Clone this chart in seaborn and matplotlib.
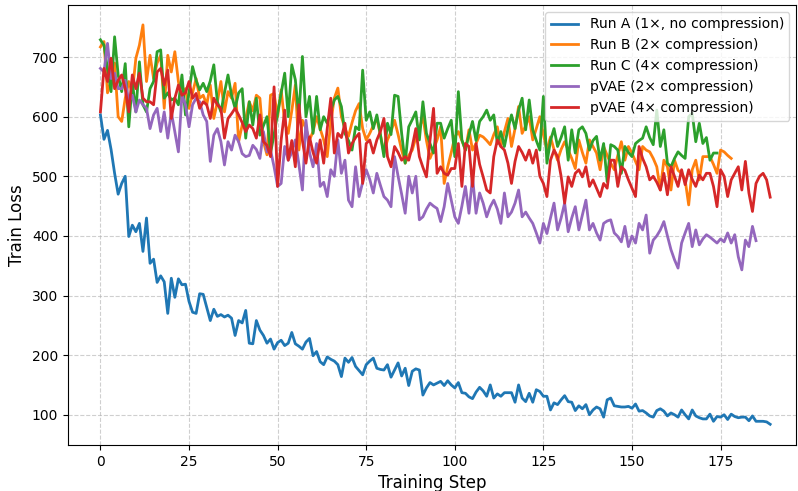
import matplotlib
matplotlib.use("Agg")
import matplotlib.pyplot as plt
import seaborn as sns
import pandas as pd

run_a = [603, 562, 577, 545, 505, 470, 488, 500, 399, 418, 407, 421, 374, 430, 354, 361, 322, 333, 323, 270,
         329, 297, 328, 318, 319, 290, 272, 270, 303, 302, 280, 258, 277, 265, 268, 264, 267, 262, 233, 258,
         254, 275, 220, 219, 258, 242, 233, 220, 227, 210, 221, 225, 216, 220, 238, 219, 215, 210, 222, 228,
         199, 206, 189, 184, 197, 193, 190, 184, 164, 195, 188, 196, 181, 174, 167, 184, 190, 195, 178, 176,
         175, 184, 163, 175, 187, 165, 178, 149, 173, 177, 175, 133, 145, 154, 150, 153, 156, 149, 157, 150,
         145, 154, 137, 136, 130, 127, 138, 146, 140, 131, 150, 128, 135, 131, 137, 137, 137, 121, 150, 128,
         122, 136, 121, 142, 139, 131, 131, 108, 120, 117, 125, 132, 122, 121, 107, 115, 110, 117, 100, 108,
         113, 110, 96, 125, 128, 115, 114, 113, 113, 114, 111, 118, 106, 107, 103, 98, 96, 107, 110, 106,
         98, 103, 100, 96, 108, 100, 93, 108, 98, 95, 93, 93, 101, 89, 97, 96, 100, 92, 101, 97,
         95, 96, 96, 90, 98, 89, 89, 89, 88, 84]

run_b = [717, 726, 640, 659, 690, 600, 592, 631, 659, 640, 698, 720, 754, 659, 703, 664, 690, 703, 614, 703,
         675, 709, 659, 625, 647, 614, 640, 664, 631, 636, 620, 653, 597, 625, 659, 608, 642, 631, 656, 558,
         586, 597, 625, 610, 636, 631, 558, 536, 636, 639, 600, 645, 590, 572, 610, 653, 544, 594, 580, 561,
         575, 600, 580, 561, 533, 590, 631, 648, 600, 580, 567, 590, 610, 622, 580, 561, 572, 585, 597, 570,
         539, 561, 575, 594, 570, 544, 522, 535, 544, 565, 580, 600, 560, 530, 545, 561, 583, 488, 516, 540,
         566, 575, 560, 544, 578, 544, 555, 569, 566, 560, 553, 570, 583, 550, 575, 597, 550, 580, 617, 572,
         585, 600, 561, 580, 600, 570, 544, 566, 545, 527, 545, 558, 544, 530, 513, 561, 540, 522, 561, 550,
         539, 511, 550, 535, 522, 511, 535, 558, 527, 550, 539, 525, 511, 550, 544, 541, 530, 516, 477, 527,
         516, 477, 527, 510, 505, 494, 452, 511, 527, 494, 533, 533, 533, 520, 505, 544, 541, 535, 530]

run_c = [729, 720, 680, 642, 734, 670, 642, 689, 583, 659, 608, 692, 620, 608, 647, 659, 709, 712, 631, 640,
         628, 631, 620, 670, 603, 640, 684, 661, 645, 656, 642, 660, 687, 625, 608, 640, 670, 636, 614, 640,
         647, 564, 625, 586, 631, 569, 585, 600, 539, 570, 606, 640, 673, 600, 687, 662, 600, 701, 600, 634,
         572, 634, 578, 600, 589, 610, 628, 634, 617, 572, 560, 544, 583, 578, 678, 594, 608, 580, 603, 570,
         533, 589, 570, 636, 634, 572, 522, 583, 595, 608, 561, 625, 572, 555, 539, 589, 589, 564, 580, 594,
         533, 642, 561, 544, 570, 592, 560, 592, 600, 611, 594, 603, 555, 575, 550, 580, 603, 580, 611, 631,
         578, 628, 578, 560, 544, 634, 522, 560, 580, 550, 565, 583, 527, 578, 539, 578, 583, 572, 544, 560,
         567, 527, 555, 491, 553, 550, 544, 505, 550, 540, 533, 555, 560, 564, 583, 565, 553, 611, 550, 578,
         522, 516, 530, 541, 535, 530, 600, 606, 558, 589, 555, 565, 527, 539, 539]

pvae_2x = [681, 675, 723, 664, 673, 647, 647, 661, 625, 636, 608, 628, 620, 614, 580, 603, 614, 575, 608, 564,
           608, 575, 541, 636, 620, 583, 620, 631, 625, 603, 592, 525, 569, 580, 558, 519, 558, 544, 569, 558,
           538, 533, 535, 552, 545, 530, 575, 541, 544, 516, 483, 488, 550, 527, 540, 561, 520, 477, 594, 540,
           516, 555, 483, 490, 466, 511, 500, 561, 505, 527, 460, 449, 516, 466, 490, 511, 495, 472, 505, 485,
           466, 460, 449, 533, 500, 470, 438, 500, 472, 500, 427, 432, 445, 455, 450, 446, 424, 449, 488, 460,
           432, 421, 450, 483, 438, 499, 438, 472, 455, 432, 449, 460, 445, 421, 472, 432, 440, 455, 477, 432,
           440, 430, 421, 405, 388, 421, 404, 430, 455, 410, 430, 455, 407, 430, 449, 410, 435, 460, 410, 421,
           405, 393, 421, 425, 427, 405, 399, 390, 416, 382, 400, 388, 421, 410, 435, 371, 393, 400, 410, 424,
           400, 377, 360, 346, 388, 405, 421, 382, 410, 385, 395, 402, 398, 393, 388, 395, 390, 405, 388, 402,
           365, 343, 393, 382, 416, 392]

pvae_4x = [608, 681, 659, 698, 647, 661, 670, 647, 608, 670, 647, 673, 631, 625, 625, 620, 675, 681, 653, 678,
           597, 631, 653, 636, 640, 659, 631, 639, 614, 625, 620, 597, 631, 620, 614, 564, 597, 605, 614, 603,
           590, 575, 586, 580, 564, 603, 558, 552, 533, 650, 483, 561, 611, 527, 560, 516, 620, 560, 522, 566,
           540, 522, 561, 522, 580, 631, 539, 572, 565, 589, 539, 555, 565, 572, 488, 555, 561, 539, 561, 575,
           597, 533, 516, 550, 540, 527, 533, 527, 550, 580, 533, 515, 499, 560, 614, 505, 516, 505, 502, 513,
           513, 555, 483, 555, 550, 483, 555, 520, 499, 477, 472, 533, 561, 550, 544, 522, 488, 525, 550, 540,
           527, 544, 522, 544, 500, 488, 466, 527, 544, 533, 500, 455, 499, 483, 505, 511, 499, 516, 483, 494,
           480, 466, 488, 480, 527, 527, 483, 516, 510, 494, 480, 466, 550, 530, 516, 494, 500, 490, 477, 505,
           469, 516, 500, 483, 511, 486, 511, 495, 483, 502, 494, 505, 505, 483, 449, 511, 500, 466, 494, 505,
           516, 477, 525, 472, 441, 488, 500, 505, 494, 465]

series = [
    ("Run A (1\u00d7, no compression)", run_a, "#1f77b4"),
    ("Run B (2\u00d7 compression)", run_b, "#ff7f0e"),
    ("Run C (4\u00d7 compression)", run_c, "#2ca02c"),
    ("pVAE (2\u00d7 compression)", pvae_2x, "#9467bd"),
    ("pVAE (4\u00d7 compression)", pvae_4x, "#d62728"),
]

fig, ax = plt.subplots(figsize=(7.98, 4.91), dpi=100)
fig.subplots_adjust(left=0.085, right=0.998, top=0.99, bottom=0.094)

for name, vals, color in series:
    df = pd.DataFrame({"step": range(len(vals)), "loss": vals})
    sns.lineplot(data=df, x="step", y="loss", ax=ax, color=color, linewidth=2, label=name)

ax.set_xlim(-9.2, 196.4)
ax.set_ylim(49.5, 787.5)
ax.set_xticks([0, 25, 50, 75, 100, 125, 150, 175])
ax.set_xlabel("Training Step", fontsize=12)
ax.set_ylabel("Train Loss", fontsize=12)
ax.grid(True, linestyle="--", alpha=0.6)
ax.legend(loc="upper right", fontsize=10)

fig.savefig("out.png", dpi=100)
